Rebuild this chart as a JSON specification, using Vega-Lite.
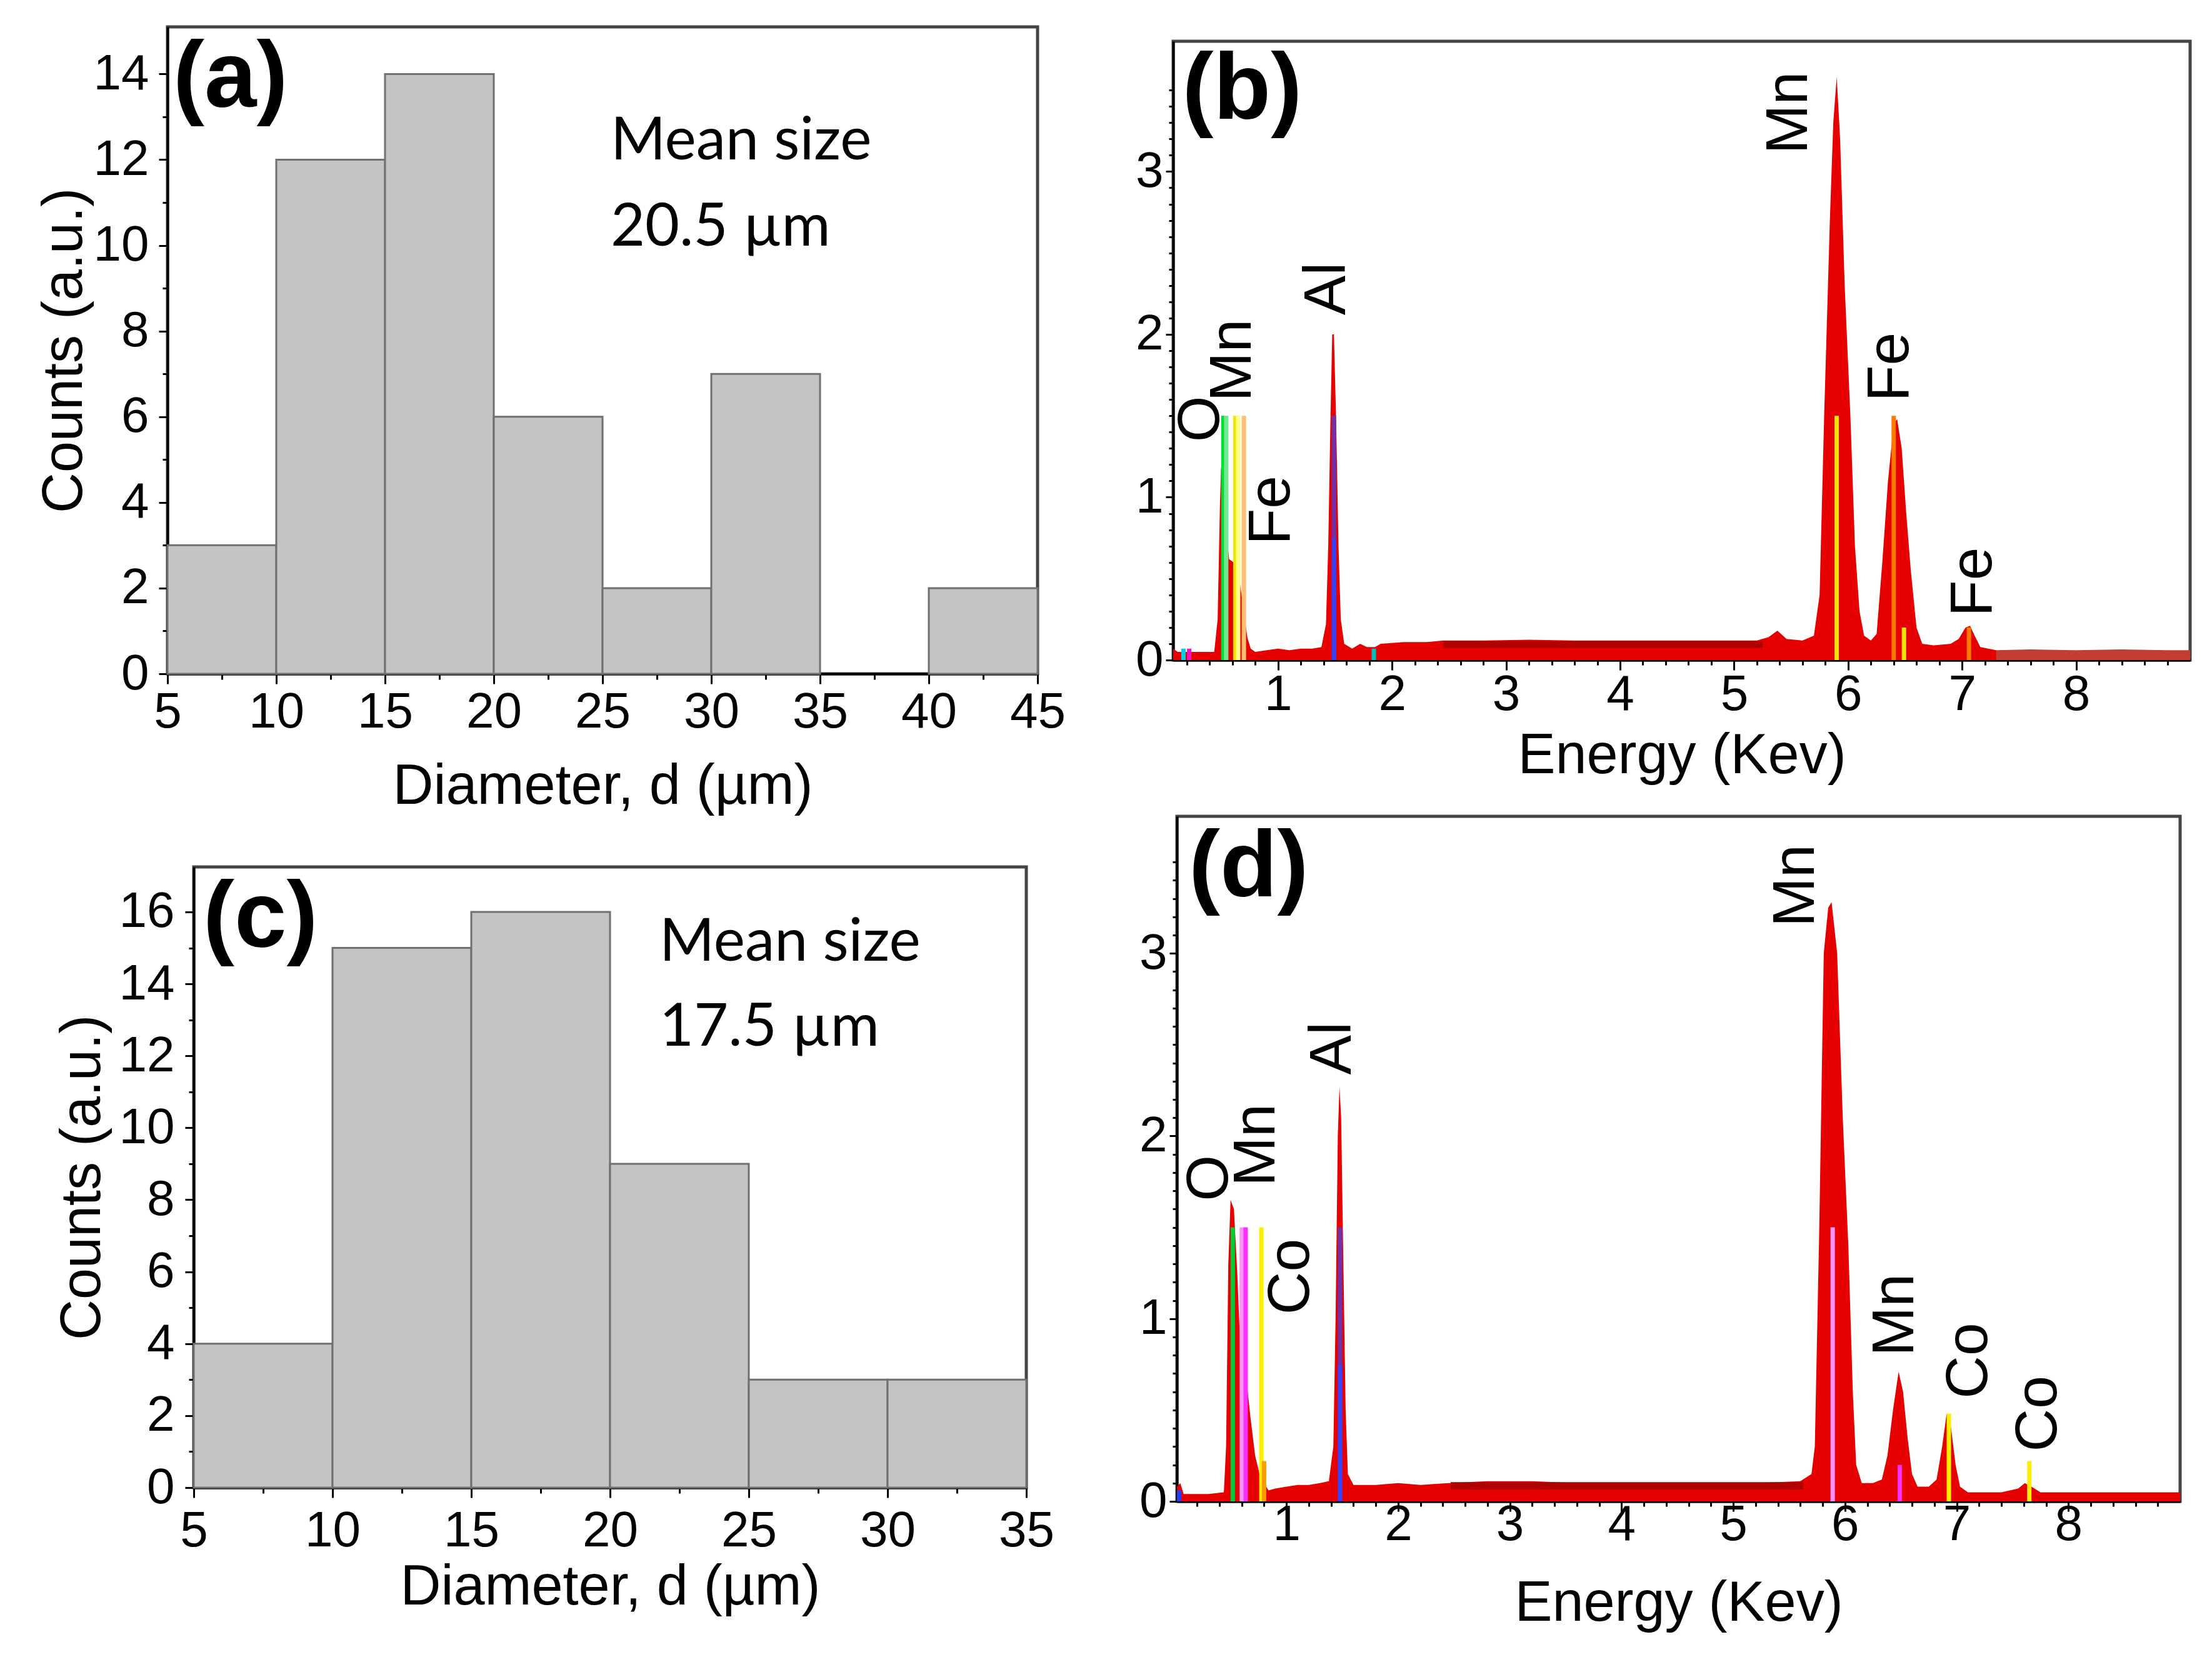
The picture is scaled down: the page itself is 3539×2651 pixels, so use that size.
{
  "$schema": "https://vega.github.io/schema/vega-lite/v6.json",
  "background": "white",
  "padding": {"left": 55, "top": 40, "right": 5, "bottom": 5},
  "config": {
    "font": "Liberation Sans",
    "view": {"stroke": "#444444", "strokeWidth": 5},
    "axis": {
      "grid": false,
      "labelFont": "Liberation Sans", "labelFontSize": 80, "labelColor": "#000000",
      "titleFont": "Liberation Sans", "titleFontSize": 90, "titleFontWeight": "normal", "titleColor": "#000000",
      "domainColor": "#000000", "domainWidth": 4, "tickColor": "#000000", "tickWidth": 3,
      "labelOverlap": false, "labelFlush": false, "labelBound": false
    },
    "text": {"font": "Liberation Sans", "color": "#000000"}
  },
  "datasets": {
    "histA": [
      {"x": 5, "x2": 10, "y": 3}, {"x": 10, "x2": 15, "y": 12}, {"x": 15, "x2": 20, "y": 14},
      {"x": 20, "x2": 25, "y": 6}, {"x": 25, "x2": 30, "y": 2}, {"x": 30, "x2": 35, "y": 7},
      {"x": 40, "x2": 45, "y": 2}
    ],
    "histC": [
      {"x": 5, "x2": 10, "y": 4}, {"x": 10, "x2": 15, "y": 15}, {"x": 15, "x2": 20, "y": 16},
      {"x": 20, "x2": 25, "y": 9}, {"x": 25, "x2": 30, "y": 3}, {"x": 30, "x2": 35, "y": 3}
    ],
    "noteA": [{"x": 25.37, "y": 12.0, "t": "Mean size"}, {"x": 25.37, "y": 10.0, "t": "20.5 µm"}],
    "noteC": [{"x": 21.78, "y": 14.64, "t": "Mean size"}, {"x": 21.78, "y": 12.29, "t": "17.5 µm"}],
    "tagA": [{"x": 5.26, "y": 14.97, "t": "(a)"}],
    "tagC": [{"x": 5.34, "y": 17.09, "t": "(c)"}],
    "tagB": [{"E": 0.16, "y": 3.78, "t": "(b)"}],
    "tagD": [{"E": 0.126, "y": 3.72, "t": "(d)"}],
    "specB": [
      {"E": 0.08, "y": 0.07, "part": "main"}, {"E": 0.12, "y": 0.05, "part": "main"}, {"E": 0.2, "y": 0.05, "part": "main"},
      {"E": 0.3, "y": 0.05, "part": "main"}, {"E": 0.44, "y": 0.05, "part": "main"}, {"E": 0.47, "y": 0.25, "part": "main"},
      {"E": 0.49, "y": 0.95, "part": "main"}, {"E": 0.5, "y": 1.18, "part": "main"}, {"E": 0.52, "y": 1.16, "part": "main"},
      {"E": 0.54, "y": 0.85, "part": "main"}, {"E": 0.57, "y": 0.62, "part": "main"}, {"E": 0.61, "y": 0.6, "part": "main"},
      {"E": 0.64, "y": 0.62, "part": "main"}, {"E": 0.67, "y": 0.45, "part": "main"}, {"E": 0.7, "y": 0.3, "part": "main"},
      {"E": 0.73, "y": 0.14, "part": "main"}, {"E": 0.76, "y": 0.07, "part": "main"}, {"E": 0.8, "y": 0.05, "part": "main"},
      {"E": 0.9, "y": 0.06, "part": "main"}, {"E": 1.0, "y": 0.07, "part": "main"}, {"E": 1.1, "y": 0.06, "part": "main"},
      {"E": 1.2, "y": 0.07, "part": "main"}, {"E": 1.3, "y": 0.07, "part": "main"}, {"E": 1.38, "y": 0.08, "part": "main"},
      {"E": 1.42, "y": 0.22, "part": "main"}, {"E": 1.44, "y": 0.7, "part": "main"}, {"E": 1.46, "y": 1.5, "part": "main"},
      {"E": 1.475, "y": 2.0, "part": "main"}, {"E": 1.49, "y": 2.0, "part": "main"}, {"E": 1.51, "y": 1.45, "part": "main"},
      {"E": 1.53, "y": 0.7, "part": "main"}, {"E": 1.55, "y": 0.25, "part": "main"}, {"E": 1.58, "y": 0.1, "part": "main"},
      {"E": 1.65, "y": 0.07, "part": "main"}, {"E": 1.72, "y": 0.1, "part": "main"}, {"E": 1.78, "y": 0.08, "part": "main"},
      {"E": 1.85, "y": 0.08, "part": "main"}, {"E": 1.9, "y": 0.1, "part": "main"}, {"E": 2.1, "y": 0.11, "part": "main"},
      {"E": 2.3, "y": 0.11, "part": "main"}, {"E": 2.45, "y": 0.12, "part": "main"}, {"E": 2.8, "y": 0.12, "part": "main"},
      {"E": 3.2, "y": 0.125, "part": "main"}, {"E": 3.6, "y": 0.12, "part": "main"}, {"E": 4.0, "y": 0.12, "part": "main"},
      {"E": 4.4, "y": 0.12, "part": "main"}, {"E": 4.8, "y": 0.12, "part": "main"}, {"E": 5.2, "y": 0.12, "part": "main"},
      {"E": 5.3, "y": 0.14, "part": "main"}, {"E": 5.38, "y": 0.18, "part": "main"}, {"E": 5.46, "y": 0.13, "part": "main"},
      {"E": 5.6, "y": 0.12, "part": "main"}, {"E": 5.7, "y": 0.15, "part": "main"}, {"E": 5.75, "y": 0.4, "part": "main"},
      {"E": 5.79, "y": 1.5, "part": "main"}, {"E": 5.84, "y": 2.7, "part": "main"}, {"E": 5.87, "y": 3.3, "part": "main"},
      {"E": 5.9, "y": 3.58, "part": "main"}, {"E": 5.93, "y": 3.2, "part": "main"}, {"E": 5.97, "y": 2.3, "part": "main"},
      {"E": 6.02, "y": 1.5, "part": "main"}, {"E": 6.06, "y": 0.7, "part": "main"}, {"E": 6.1, "y": 0.3, "part": "main"},
      {"E": 6.14, "y": 0.15, "part": "main"}, {"E": 6.2, "y": 0.12, "part": "main"}, {"E": 6.25, "y": 0.16, "part": "main"},
      {"E": 6.3, "y": 0.6, "part": "main"}, {"E": 6.35, "y": 1.1, "part": "main"}, {"E": 6.4, "y": 1.45, "part": "main"},
      {"E": 6.43, "y": 1.48, "part": "main"}, {"E": 6.47, "y": 1.3, "part": "main"}, {"E": 6.51, "y": 0.9, "part": "main"},
      {"E": 6.55, "y": 0.55, "part": "main"}, {"E": 6.6, "y": 0.2, "part": "main"}, {"E": 6.65, "y": 0.1, "part": "main"},
      {"E": 6.75, "y": 0.09, "part": "main"}, {"E": 6.9, "y": 0.1, "part": "main"}, {"E": 6.97, "y": 0.13, "part": "main"},
      {"E": 7.03, "y": 0.2, "part": "main"}, {"E": 7.07, "y": 0.21, "part": "main"}, {"E": 7.11, "y": 0.15, "part": "main"},
      {"E": 7.16, "y": 0.08, "part": "main"}, {"E": 7.3, "y": 0.06, "part": "main"},
      {"E": 7.3, "y": 0.06, "part": "tail"}, {"E": 7.6, "y": 0.065, "part": "tail"}, {"E": 8.0, "y": 0.06, "part": "tail"},
      {"E": 8.4, "y": 0.065, "part": "tail"}, {"E": 8.8, "y": 0.06, "part": "tail"}, {"E": 9.1, "y": 0.06, "part": "tail"}
    ],
    "bandB": [{"E": 2.45, "y": 0.115, "y2": 0.075}, {"E": 5.25, "y": 0.115, "y2": 0.075}],
    "lineB": [
      {"E": 0.17, "y": 0.07, "y2": 0, "el": "C"}, {"E": 0.22, "y": 0.07, "y2": 0, "el": "N"},
      {"E": 0.52, "y": 1.5, "y2": 0, "el": "O"}, {"E": 0.545, "y": 1.5, "y2": 0, "el": "O2"},
      {"E": 0.625, "y": 1.5, "y2": 0, "el": "Mn"}, {"E": 0.65, "y": 1.5, "y2": 0, "el": "Mn2"},
      {"E": 0.7, "y": 1.5, "y2": 0, "el": "FeL"}, {"E": 1.49, "y": 0.75, "y2": 0, "el": "Al"},
      {"E": 1.49, "y": 1.5, "y2": 0.75, "el": "Al2"}, {"E": 1.84, "y": 0.07, "y2": 0, "el": "Si"},
      {"E": 5.9, "y": 1.5, "y2": 0, "el": "Mn"}, {"E": 6.4, "y": 1.5, "y2": 0, "el": "Fe"},
      {"E": 6.49, "y": 0.2, "y2": 0, "el": "Mn"}, {"E": 7.06, "y": 0.2, "y2": 0, "el": "Fe"}
    ],
    "labB": [
      {"E": 0.32, "y": 1.48, "t": "O"}, {"E": 0.6, "y": 1.84, "t": "Mn"}, {"E": 0.94, "y": 0.92, "t": "Fe"},
      {"E": 1.43, "y": 2.28, "t": "Al"}, {"E": 5.48, "y": 3.36, "t": "Mn"}, {"E": 6.37, "y": 1.8, "t": "Fe"},
      {"E": 7.1, "y": 0.48, "t": "Fe"}
    ],
    "specD": [
      {"E": 0.02, "y": 0.08}, {"E": 0.05, "y": 0.1}, {"E": 0.08, "y": 0.04}, {"E": 0.2, "y": 0.04}, {"E": 0.3, "y": 0.04},
      {"E": 0.44, "y": 0.05}, {"E": 0.46, "y": 0.3}, {"E": 0.48, "y": 1.3}, {"E": 0.5, "y": 1.65}, {"E": 0.53, "y": 1.6},
      {"E": 0.56, "y": 1.25}, {"E": 0.59, "y": 0.8}, {"E": 0.62, "y": 0.66}, {"E": 0.65, "y": 0.62}, {"E": 0.68, "y": 0.45},
      {"E": 0.72, "y": 0.25}, {"E": 0.76, "y": 0.15}, {"E": 0.8, "y": 0.1}, {"E": 0.84, "y": 0.06}, {"E": 0.9, "y": 0.07},
      {"E": 1.0, "y": 0.08}, {"E": 1.1, "y": 0.09}, {"E": 1.2, "y": 0.09}, {"E": 1.3, "y": 0.1}, {"E": 1.38, "y": 0.11},
      {"E": 1.42, "y": 0.3}, {"E": 1.44, "y": 1.0}, {"E": 1.46, "y": 2.0}, {"E": 1.475, "y": 2.27}, {"E": 1.49, "y": 2.1},
      {"E": 1.51, "y": 1.3}, {"E": 1.53, "y": 0.5}, {"E": 1.55, "y": 0.15}, {"E": 1.6, "y": 0.09}, {"E": 1.8, "y": 0.09},
      {"E": 2.0, "y": 0.1}, {"E": 2.2, "y": 0.09}, {"E": 2.45, "y": 0.1}, {"E": 2.8, "y": 0.11}, {"E": 3.2, "y": 0.11},
      {"E": 3.6, "y": 0.1}, {"E": 4.0, "y": 0.1}, {"E": 4.4, "y": 0.1}, {"E": 4.8, "y": 0.1}, {"E": 5.2, "y": 0.1},
      {"E": 5.6, "y": 0.11}, {"E": 5.7, "y": 0.15}, {"E": 5.73, "y": 0.3}, {"E": 5.77, "y": 1.5}, {"E": 5.81, "y": 3.0},
      {"E": 5.85, "y": 3.25}, {"E": 5.88, "y": 3.28}, {"E": 5.93, "y": 3.0}, {"E": 5.98, "y": 2.1}, {"E": 6.03, "y": 1.4},
      {"E": 6.07, "y": 0.6}, {"E": 6.1, "y": 0.2}, {"E": 6.15, "y": 0.1}, {"E": 6.25, "y": 0.1}, {"E": 6.33, "y": 0.12},
      {"E": 6.38, "y": 0.25}, {"E": 6.43, "y": 0.5}, {"E": 6.48, "y": 0.71}, {"E": 6.52, "y": 0.6}, {"E": 6.56, "y": 0.35},
      {"E": 6.6, "y": 0.15}, {"E": 6.65, "y": 0.08}, {"E": 6.75, "y": 0.08}, {"E": 6.82, "y": 0.12}, {"E": 6.87, "y": 0.3},
      {"E": 6.91, "y": 0.48}, {"E": 6.95, "y": 0.4}, {"E": 6.99, "y": 0.2}, {"E": 7.03, "y": 0.08}, {"E": 7.1, "y": 0.05},
      {"E": 7.4, "y": 0.05}, {"E": 7.55, "y": 0.07}, {"E": 7.61, "y": 0.1}, {"E": 7.67, "y": 0.08}, {"E": 7.75, "y": 0.05},
      {"E": 8.2, "y": 0.05}, {"E": 8.6, "y": 0.05}, {"E": 9.1, "y": 0.05}
    ],
    "bandD": [{"E": 2.47, "y": 0.105, "y2": 0.065}, {"E": 5.63, "y": 0.105, "y2": 0.065}],
    "lineD": [
      {"E": 0.04, "y": 0.06, "y2": 0, "el": "C"}, {"E": 0.52, "y": 1.5, "y2": 0, "el": "O"},
      {"E": 0.6, "y": 1.5, "y2": 0, "el": "Mn2"}, {"E": 0.635, "y": 1.5, "y2": 0, "el": "Mn"},
      {"E": 0.776, "y": 1.5, "y2": 0, "el": "Co"}, {"E": 0.8, "y": 0.22, "y2": 0, "el": "Co2"},
      {"E": 1.48, "y": 0.75, "y2": 0, "el": "Al"}, {"E": 1.48, "y": 1.5, "y2": 0.75, "el": "Al2"},
      {"E": 5.89, "y": 1.5, "y2": 0, "el": "Mn2"}, {"E": 6.49, "y": 0.2, "y2": 0, "el": "Mn"},
      {"E": 6.93, "y": 0.48, "y2": 0, "el": "Co"}, {"E": 7.65, "y": 0.22, "y2": 0, "el": "Co"}
    ],
    "labD": [
      {"E": 0.31, "y": 1.77, "t": "O"}, {"E": 0.73, "y": 1.95, "t": "Mn"}, {"E": 1.04, "y": 1.23, "t": "Co"},
      {"E": 1.415, "y": 2.48, "t": "Al"}, {"E": 5.56, "y": 3.37, "t": "Mn"}, {"E": 6.45, "y": 1.02, "t": "Mn"},
      {"E": 7.11, "y": 0.77, "t": "Co"}, {"E": 7.73, "y": 0.48, "t": "Co"}
    ]
  },
  "resolve": {"scale": {"color": "independent"}},
  "vconcat": [
    {
      "resolve": {"scale": {"color": "independent"}},
      "hconcat": [
        {
          "width": 1392, "height": 1035,
          "encoding": {
            "x": {"field": "x", "type": "quantitative", "scale": {"domain": [5, 45], "nice": false, "zero": false},
              "axis": {"title": "Diameter, d (µm)", "labelOverlap": false, "tickCount": 100,
                "values": [5, 7.5, 10, 12.5, 15, 17.5, 20, 22.5, 25, 27.5, 30, 32.5, 35, 37.5, 40, 42.5, 45],
                "labelExpr": "datum.value % 5 == 0 ? format(datum.value, 'd') : ''",
                "tickSize": {"condition": {"test": "datum.value % 5 == 0", "value": 16}, "value": 9},
                "labelPadding": 6, "titlePadding": 35}},
            "y": {"field": "y", "type": "quantitative", "scale": {"domain": [0, 15.1], "nice": false},
              "axis": {"title": "Counts (a.u.)", "labelOverlap": false, "tickCount": 100,
                "values": [0, 1, 2, 3, 4, 5, 6, 7, 8, 9, 10, 11, 12, 13, 14],
                "labelExpr": "datum.value % 2 == 0 ? format(datum.value, 'd') : ''",
                "tickSize": {"condition": {"test": "datum.value % 2 == 0", "value": 14}, "value": 8},
                "labelPadding": 16, "titlePadding": 0}}
          },
          "layer": [
            {"data": {"name": "histA"}, "mark": {"type": "bar", "fill": "#c4c4c4", "stroke": "#707070", "strokeWidth": 3},
              "encoding": {"x2": {"field": "x2"}, "y2": {"datum": 0}}},
            {"data": {"name": "noteA"}, "mark": {"type": "text", "font": "Lato", "fontSize": 95, "align": "left", "baseline": "alphabetic"},
              "encoding": {"text": {"field": "t"}}},
            {"data": {"name": "tagA"}, "mark": {"type": "text", "fontSize": 150, "fontWeight": "bold", "align": "left", "baseline": "top"},
              "encoding": {"text": {"field": "t"}}}
          ]
        },
        {
          "vconcat": [
            {"data": {"values": []}, "mark": {"type": "point", "opacity": 0}, "width": 1, "height": 20, "view": {"stroke": null}},
            {
              "width": 1627, "height": 990,
              "encoding": {
                "x": {"field": "E", "type": "quantitative", "scale": {"domain": [0.08, 9.0], "nice": false, "zero": false},
                  "axis": {"title": "Energy (Kev)", "labelOverlap": false, "tickCount": 100,
                    "values": [0.2, 0.4, 0.6, 0.8, 1, 1.2, 1.4, 1.6, 1.8, 2, 2.2, 2.4, 2.6, 2.8, 3, 3.2, 3.4, 3.6, 3.8, 4, 4.2, 4.4, 4.6, 4.8, 5, 5.2, 5.4, 5.6, 5.8, 6, 6.2, 6.4, 6.6, 6.8, 7, 7.2, 7.4, 7.6, 7.8, 8, 8.2, 8.4, 8.6, 8.8],
                    "labelExpr": "datum.value % 1 == 0 ? format(datum.value, 'd') : ''",
                    "tickSize": {"condition": {"test": "datum.value % 1 == 0", "value": 16}, "value": 8},
                    "labelPadding": 0, "titlePadding": 14}},
                "y": {"field": "y", "type": "quantitative", "scale": {"domain": [0, 3.8], "nice": false},
                  "axis": {"title": null, "labelOverlap": false, "tickCount": 100,
                    "values": [0, 0.1, 0.2, 0.3, 0.4, 0.5, 0.6, 0.7, 0.8, 0.9, 1, 1.1, 1.2, 1.3, 1.4, 1.5, 1.6, 1.7, 1.8, 1.9, 2, 2.1, 2.2, 2.3, 2.4, 2.5, 2.6, 2.7, 2.8, 2.9, 3, 3.1, 3.2, 3.3, 3.4, 3.5],
                    "labelExpr": "datum.value % 1 == 0 ? format(datum.value, 'd') : ''",
                    "tickSize": {"condition": {"test": "datum.value % 1 == 0", "value": 12}, "value": 7},
                    "labelPadding": 4}}
              },
              "layer": [
                {"data": {"name": "specB"}, "transform": [{"filter": "datum.part == 'main'"}],
                  "mark": {"type": "area", "color": "#e60000", "clip": true}},
                {"data": {"name": "specB"}, "transform": [{"filter": "datum.part == 'tail'"}],
                  "mark": {"type": "area", "color": "#c43c34", "clip": true}},
                {"data": {"name": "bandB"}, "mark": {"type": "area", "color": "#b00000", "clip": true},
                  "encoding": {"y2": {"field": "y2"}}},
                {"data": {"name": "lineB"}, "mark": {"type": "rule", "strokeWidth": 7, "clip": true},
                  "encoding": {"y2": {"field": "y2"},
                    "color": {"field": "el", "type": "nominal", "legend": null,
                      "scale": {"domain": ["C", "N", "O", "O2", "Mn", "Mn2", "Fe", "FeL", "Al", "Al2", "Si"],
                        "range": ["#00d0e0", "#ff10c0", "#00dd33", "#70e890", "#f2e600", "#ffff8a", "#ff7800", "#ffbf73", "#3344ff", "#7030a8", "#00c0c0"]}}}},
                {"data": {"name": "labB"}, "mark": {"type": "text", "angle": 270, "fontSize": 95, "align": "center", "baseline": "middle"},
                  "encoding": {"text": {"field": "t"}}},
                {"data": {"name": "tagB"}, "mark": {"type": "text", "fontSize": 150, "fontWeight": "bold", "align": "left", "baseline": "top"},
                  "encoding": {"text": {"field": "t"}}}
              ]
            }
          ],
          "spacing": 0
        }
      ],
      "spacing": 107
    },
    {
      "resolve": {"scale": {"color": "independent"}},
      "hconcat": [
        {
          "vconcat": [
            {"data": {"values": []}, "mark": {"type": "point", "opacity": 0}, "width": 1, "height": 78, "view": {"stroke": null}},
            {
              "hconcat": [
                {"data": {"values": []}, "mark": {"type": "point", "opacity": 0}, "width": 1, "height": 1, "view": {"stroke": null}},
                {
                  "width": 1332, "height": 993,
                  "encoding": {
                    "x": {"field": "x", "type": "quantitative", "scale": {"domain": [5, 35], "nice": false, "zero": false},
                      "axis": {"title": "Diameter, d (µm)", "labelOverlap": false, "tickCount": 100,
                        "values": [5, 7.5, 10, 12.5, 15, 17.5, 20, 22.5, 25, 27.5, 30, 32.5, 35],
                        "labelExpr": "datum.value % 5 == 0 ? format(datum.value, 'd') : ''",
                        "tickSize": {"condition": {"test": "datum.value % 5 == 0", "value": 16}, "value": 9},
                        "labelPadding": 14, "titlePadding": 6}},
                    "y": {"field": "y", "type": "quantitative", "scale": {"domain": [0, 17.25], "nice": false},
                      "axis": {"title": "Counts (a.u.)", "labelOverlap": false, "tickCount": 100,
                        "values": [0, 1, 2, 3, 4, 5, 6, 7, 8, 9, 10, 11, 12, 13, 14, 15, 16],
                        "labelExpr": "datum.value % 2 == 0 ? format(datum.value, 'd') : ''",
                        "tickSize": {"condition": {"test": "datum.value % 2 == 0", "value": 14}, "value": 8},
                        "labelPadding": 17, "titlePadding": 12}}
                  },
                  "layer": [
                    {"data": {"name": "histC"}, "mark": {"type": "bar", "fill": "#c4c4c4", "stroke": "#707070", "strokeWidth": 3},
                      "encoding": {"x2": {"field": "x2"}, "y2": {"datum": 0}}},
                    {"data": {"name": "noteC"}, "mark": {"type": "text", "font": "Lato", "fontSize": 95, "align": "left", "baseline": "alphabetic"},
                      "encoding": {"text": {"field": "t"}}},
                    {"data": {"name": "tagC"}, "mark": {"type": "text", "fontSize": 150, "fontWeight": "bold", "align": "left", "baseline": "top"},
                      "encoding": {"text": {"field": "t"}}}
                  ]
                }
              ],
              "spacing": -185
            }
          ],
          "spacing": 0
        },
        {
          "width": 1605, "height": 1096,
          "encoding": {
            "x": {"field": "E", "type": "quantitative", "scale": {"domain": [0.02, 9.0], "nice": false, "zero": false},
              "axis": {"title": "Energy (Kev)", "labelOverlap": false, "tickCount": 100,
                "values": [0.2, 0.4, 0.6, 0.8, 1, 1.2, 1.4, 1.6, 1.8, 2, 2.2, 2.4, 2.6, 2.8, 3, 3.2, 3.4, 3.6, 3.8, 4, 4.2, 4.4, 4.6, 4.8, 5, 5.2, 5.4, 5.6, 5.8, 6, 6.2, 6.4, 6.6, 6.8, 7, 7.2, 7.4, 7.6, 7.8, 8, 8.2, 8.4, 8.6, 8.8],
                "labelExpr": "datum.value % 1 == 0 ? format(datum.value, 'd') : ''",
                "tickSize": {"condition": {"test": "datum.value % 1 == 0", "value": 16}, "value": 8},
                "labelPadding": -18, "titlePadding": 42}},
            "y": {"field": "y", "type": "quantitative", "scale": {"domain": [0, 3.75], "nice": false},
              "axis": {"title": null, "labelOverlap": false, "tickCount": 100,
                "values": [0, 0.1, 0.2, 0.3, 0.4, 0.5, 0.6, 0.7, 0.8, 0.9, 1, 1.1, 1.2, 1.3, 1.4, 1.5, 1.6, 1.7, 1.8, 1.9, 2, 2.1, 2.2, 2.3, 2.4, 2.5, 2.6, 2.7, 2.8, 2.9, 3, 3.1, 3.2, 3.3, 3.4, 3.5],
                "labelExpr": "datum.value % 1 == 0 ? format(datum.value, 'd') : ''",
                "tickSize": {"condition": {"test": "datum.value % 1 == 0", "value": 12}, "value": 7},
                "labelPadding": 4}}
          },
          "layer": [
            {"data": {"name": "specD"}, "mark": {"type": "area", "color": "#e60000", "clip": true}},
            {"data": {"name": "bandD"}, "mark": {"type": "area", "color": "#b00000", "clip": true},
              "encoding": {"y2": {"field": "y2"}}},
            {"data": {"name": "lineD"}, "mark": {"type": "rule", "strokeWidth": 7, "clip": true},
              "encoding": {"y2": {"field": "y2"},
                "color": {"field": "el", "type": "nominal", "legend": null,
                  "scale": {"domain": ["C", "O", "Mn", "Mn2", "Co", "Co2", "Al", "Al2"],
                    "range": ["#2040ff", "#00cc33", "#ff30ff", "#ff90ff", "#ffee00", "#ff9a00", "#3344ff", "#7030a8"]}}}},
            {"data": {"name": "labD"}, "mark": {"type": "text", "angle": 270, "fontSize": 95, "align": "center", "baseline": "middle"},
              "encoding": {"text": {"field": "t"}}},
            {"data": {"name": "tagD"}, "mark": {"type": "text", "fontSize": 150, "fontWeight": "bold", "align": "left", "baseline": "top"},
              "encoding": {"text": {"field": "t"}}}
          ]
        }
      ],
      "spacing": 131
    }
  ],
  "spacing": -48
}
